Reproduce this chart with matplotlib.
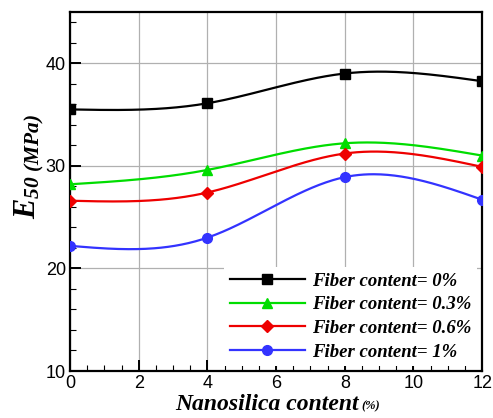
import numpy as np
import matplotlib
matplotlib.use('Agg')
import matplotlib.pyplot as plt
from matplotlib.lines import Line2D

# --- data ---
nanosilica = [0, 4, 8, 12]
e50_fiber_0 = [35.5, 36.1, 39.0, 38.25]
e50_fiber_03 = [28.2, 29.6, 32.2, 31.0]
e50_fiber_06 = [26.6, 27.4, 31.2, 29.9]
e50_fiber_1 = [22.2, 23.0, 28.9, 26.7]

labels = ['Fiber content= 0%', 'Fiber content= 0.3%',
          'Fiber content= 0.6%', 'Fiber content= 1%']
series = [e50_fiber_0, e50_fiber_03, e50_fiber_06, e50_fiber_1]
colors = ['black', '#00dd00', '#ee0000', '#3333ff']
markers = ['s', '^', 'D', 'o']
msizes = [7, 7, 6, 7]


def natural_spline(x, y, xs):
    """Natural cubic spline through (x, y), evaluated at xs (smooth connecting curve)."""
    x = np.asarray(x, float)
    y = np.asarray(y, float)
    n = len(x)
    h = np.diff(x)
    A = np.zeros((n, n))
    rhs = np.zeros(n)
    A[0, 0] = A[-1, -1] = 1.0
    for i in range(1, n - 1):
        A[i, i - 1] = h[i - 1]
        A[i, i] = 2 * (h[i - 1] + h[i])
        A[i, i + 1] = h[i]
        rhs[i] = 3 * ((y[i + 1] - y[i]) / h[i] - (y[i] - y[i - 1]) / h[i - 1])
    c = np.linalg.solve(A, rhs)
    out = np.empty_like(xs, dtype=float)
    for i in range(n - 1):
        m = (xs >= x[i]) & (xs <= x[i + 1])
        b = (y[i + 1] - y[i]) / h[i] - h[i] * (2 * c[i] + c[i + 1]) / 3
        d = (c[i + 1] - c[i]) / (3 * h[i])
        t = xs[m] - x[i]
        out[m] = y[i] + b * t + c[i] * t ** 2 + d * t ** 3
    return out


plt.rcParams['mathtext.fontset'] = 'custom'
plt.rcParams['mathtext.it'] = 'Liberation Serif:italic:bold'
plt.rcParams['mathtext.rm'] = 'Liberation Serif:italic:bold'
plt.rcParams['mathtext.bf'] = 'Liberation Serif:italic:bold'

fig = plt.figure(figsize=(4.93, 4.18), dpi=100)
ax = fig.add_axes([0.142, 0.1124, 0.836, 0.859])

xs = np.linspace(0, 12, 241)
handles = []
for vals, col, mk, ms, lab in zip(series, colors, markers, msizes, labels):
    ax.plot(xs, natural_spline(nanosilica, vals, xs), color=col, lw=1.6, zorder=3)
    ax.plot(nanosilica, vals, ls='none', marker=mk, ms=ms, color=col, zorder=4)
    handles.append(Line2D([], [], color=col, lw=1.6, marker=mk, ms=ms, label=lab))

ax.set_xlim(0, 12)
ax.set_ylim(10, 45)
ax.set_xticks(np.arange(0, 13, 2))
ax.set_xticks(np.arange(0, 12.01, 0.5), minor=True)
ax.set_yticks([10, 20, 30, 40])
ax.set_yticks(np.arange(10, 45.01, 2), minor=True)
ax.grid(True, which='major', color='#b0b0b0', lw=0.9, zorder=0)

ax.tick_params(which='both', direction='in', top=False, right=False)
ax.tick_params(which='major', length=8, width=1.4, labelsize=13, pad=3)
ax.tick_params(which='minor', length=4, width=0.8)
for lab in ax.get_xticklabels() + ax.get_yticklabels():
    lab.set_family('Liberation Sans')
for sp in ax.spines.values():
    sp.set_linewidth(1.6)

leg = ax.legend(handles=handles, loc='lower right', bbox_to_anchor=(1.0, 0.0),
                borderaxespad=0.25, frameon=True, fancybox=False, framealpha=1,
                edgecolor='none', facecolor='white', handlelength=4.0,
                handletextpad=0.4, labelspacing=0.35, borderpad=0.3,
                prop={'family': 'Liberation Serif', 'weight': 'bold',
                      'style': 'italic', 'size': 13.5})
leg.set_zorder(5)

ax.set_xlabel('Nanosilica content', family='Liberation Serif', weight='bold',
              style='italic', fontsize=17)
ax.xaxis.set_label_coords(0.478, -0.063, transform=ax.transAxes)
ax.xaxis.label.set_va('top')
ax.annotate('(%)', xy=(1, 0), xycoords=ax.xaxis.label, xytext=(2, 2),
            textcoords='offset points', ha='left', va='bottom',
            family='Liberation Serif', weight='bold', style='italic', fontsize=9)
ax.set_ylabel(r'$E_{50\ (MPa)}$', fontsize=22)
ax.yaxis.set_label_coords(-0.058, 0.57, transform=ax.transAxes)

fig.savefig('out.png', dpi=100)
